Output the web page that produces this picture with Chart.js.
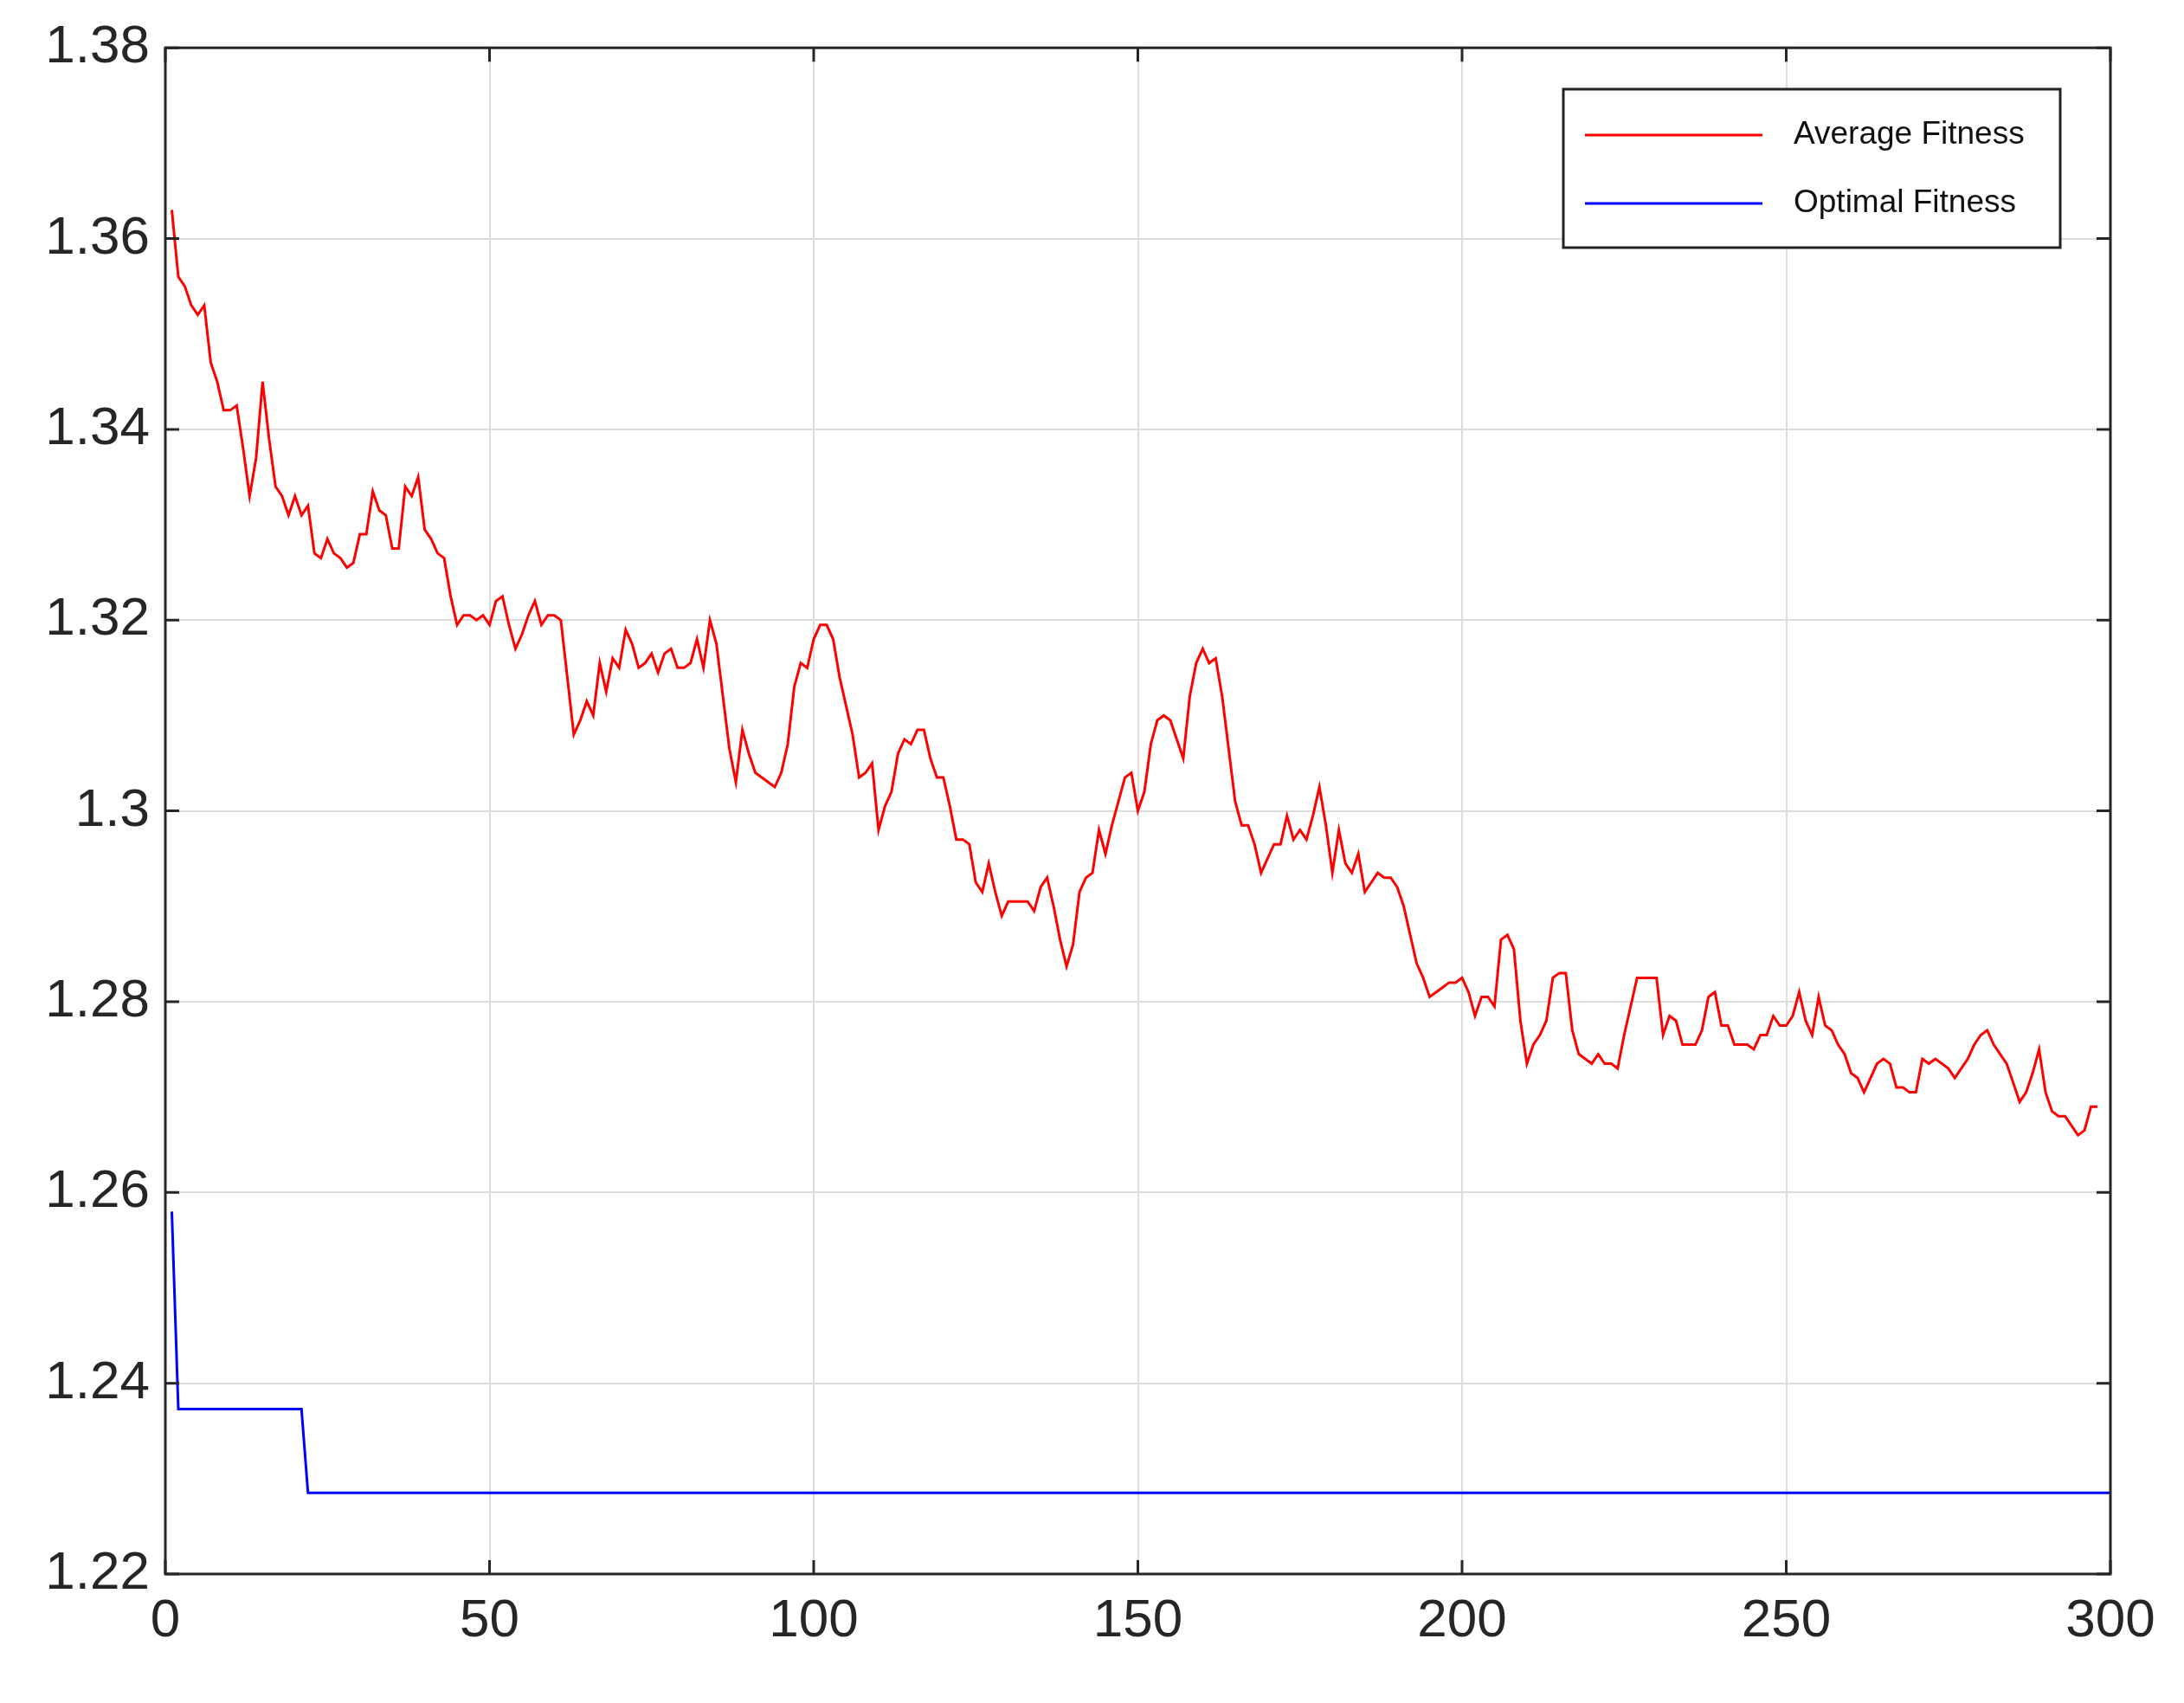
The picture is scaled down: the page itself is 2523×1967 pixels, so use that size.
<!DOCTYPE html>
<html><head><meta charset="utf-8">
<script src="https://cdn.jsdelivr.net/npm/chart.js@4/dist/chart.umd.min.js"></script>
<style>html,body{margin:0;padding:0;background:#fff}#wrap{width:2523px;height:1967px}</style>
</head><body><div id="wrap"><canvas id="c"></canvas></div>
<script>
const avgGen = Array.from({length:298},(_, i)=>i+1);
const avgFitness = [1.363,1.356,1.355,1.353,1.352,1.353,1.347,1.345,1.342,1.342,1.3425,1.338,1.333,1.337,1.345,1.339,1.334,1.333,1.331,1.333,
1.331,1.332,1.327,1.3265,1.3285,1.327,1.3265,1.3255,1.326,1.329,1.329,1.3335,1.3315,1.331,1.3275,1.3275,1.334,1.333,1.335,1.3295,
1.3285,1.327,1.3265,1.3225,1.3195,1.3205,1.3205,1.32,1.3205,1.3195,1.322,1.3225,1.3195,1.317,1.3185,1.3205,1.322,1.3195,1.3205,1.3205,
1.32,1.314,1.308,1.3095,1.3115,1.31,1.3155,1.3125,1.316,1.315,1.319,1.3175,1.315,1.3155,1.3165,1.3145,1.3165,1.317,1.315,1.315,
1.3155,1.318,1.315,1.32,1.3175,1.312,1.3065,1.303,1.3085,1.306,1.304,1.3035,1.303,1.3025,1.304,1.307,1.313,1.3155,1.315,1.318,
1.3195,1.3195,1.318,1.314,1.311,1.308,1.3035,1.304,1.305,1.298,1.3005,1.302,1.306,1.3075,1.307,1.3085,1.3085,1.3055,1.3035,1.3035,
1.3005,1.297,1.297,1.2965,1.2925,1.2915,1.2945,1.2915,1.289,1.2905,1.2905,1.2905,1.2905,1.2895,1.292,1.293,1.29,1.2865,1.2837,1.286,
1.2915,1.293,1.2935,1.298,1.2955,1.2985,1.301,1.3035,1.304,1.3,1.302,1.307,1.3095,1.31,1.3095,1.3075,1.3055,1.312,1.3155,1.317,
1.3155,1.316,1.312,1.3065,1.301,1.2985,1.2985,1.2965,1.2935,1.295,1.2965,1.2965,1.2995,1.297,1.298,1.297,1.2995,1.3025,1.2985,1.2935,
1.298,1.2945,1.2935,1.2955,1.2915,1.2925,1.2935,1.293,1.293,1.292,1.29,1.287,1.284,1.2825,1.2805,1.281,1.2815,1.282,1.282,1.2825,
1.281,1.2785,1.2805,1.2805,1.2795,1.2865,1.287,1.2855,1.278,1.2735,1.2755,1.2765,1.278,1.2825,1.283,1.283,1.277,1.2745,1.274,1.2735,
1.2745,1.2735,1.2735,1.273,1.2765,1.2795,1.2825,1.2825,1.2825,1.2825,1.2765,1.2785,1.278,1.2755,1.2755,1.2755,1.277,1.2805,1.281,1.2775,
1.2775,1.2755,1.2755,1.2755,1.275,1.2765,1.2765,1.2785,1.2775,1.2775,1.2785,1.281,1.278,1.2765,1.2805,1.2775,1.277,1.2755,1.2745,1.2725,
1.272,1.2705,1.272,1.2735,1.274,1.2735,1.271,1.271,1.2705,1.2705,1.274,1.2735,1.274,1.2735,1.273,1.272,1.273,1.274,1.2755,1.2765,
1.277,1.2755,1.2745,1.2735,1.2715,1.2695,1.2705,1.2725,1.275,1.2705,1.2685,1.268,1.268,1.267,1.266,1.2665,1.269,1.269];
const optGen = [1, 2, 21, 22, 300];
const optFitness = [1.258, 1.2373, 1.2373, 1.2285, 1.2285];
const xTicks = [0,50,100,150,200,250,300];
const yTicks = [1.22,1.24,1.26,1.28,1.3,1.32,1.34,1.36,1.38];
const seriesNames = ['Average Fitness','Optimal Fitness'];

const frame = {
  id:'frame',
  afterDraw(ch){
    const {ctx, chartArea:a, scales:{x,y}} = ch;
    ctx.save();
    ctx.strokeStyle='#262626'; ctx.lineWidth=3;
    ctx.strokeRect(a.left,a.top,a.right-a.left,a.bottom-a.top);
    ctx.lineWidth=3;
    xTicks.forEach(v=>{const p=x.getPixelForValue(v);
      ctx.beginPath();ctx.moveTo(p,a.bottom);ctx.lineTo(p,a.bottom-16);ctx.moveTo(p,a.top);ctx.lineTo(p,a.top+16);ctx.stroke();});
    yTicks.forEach(v=>{const p=y.getPixelForValue(v);
      ctx.beginPath();ctx.moveTo(a.left,p);ctx.lineTo(a.left+16,p);ctx.moveTo(a.right,p);ctx.lineTo(a.right-16,p);ctx.stroke();});
    // legend
    const L=1806,T=103,W=574,H=183;
    ctx.fillStyle='#fff';ctx.fillRect(L,T,W,H);
    ctx.strokeStyle='#222';ctx.lineWidth=3;ctx.strokeRect(L,T,W,H);
    ch.data.datasets.forEach((d,i)=>{
      const yy=T+53+i*79;
      ctx.strokeStyle=d.borderColor;ctx.lineWidth=3;
      ctx.beginPath();ctx.moveTo(L+25,yy);ctx.lineTo(L+230,yy);ctx.stroke();
      ctx.fillStyle='#111';ctx.font='37px "Liberation Sans", Arial, sans-serif';ctx.textBaseline='middle';
      ctx.fillText(d.label,L+266,yy);
    });
    ctx.restore();
  }
};

new Chart(document.getElementById('c'),{
  type:'line',
  data:{datasets:[
    {label:seriesNames[0],data:avgGen.map((g,i)=>({x:g,y:avgFitness[i]})),borderColor:'#ff0000',borderWidth:3,pointRadius:0,tension:0},
    {label:seriesNames[1],data:optGen.map((g,i)=>({x:g,y:optFitness[i]})),borderColor:'#0000ff',borderWidth:3,pointRadius:0,tension:0}
  ]},
  options:{
    responsive:true,maintainAspectRatio:false,animation:false,
    layout:{padding:{top:51,right:85,left:0,bottom:0}},
    plugins:{legend:{display:false},tooltip:{enabled:false}},
    scales:{
      x:{type:'linear',min:0,max:300,
        afterBuildTicks(s){s.ticks=xTicks.map(v=>({value:v}));},
        afterFit(s){s.height=149;},
        grid:{color:'#dcdcdc',lineWidth:2,drawTicks:false},border:{display:false},
        ticks:{color:'#262626',padding:18,font:{family:'"Liberation Sans", Arial, sans-serif',size:62},maxRotation:0}},
      y:{type:'linear',min:1.22,max:1.38,
        afterBuildTicks(s){s.ticks=yTicks.map(v=>({value:v}));},
        afterFit(s){s.width=191;},
        grid:{color:'#dcdcdc',lineWidth:2,drawTicks:false},border:{display:false},
        ticks:{color:'#262626',padding:18,font:{family:'"Liberation Sans", Arial, sans-serif',size:62},
          callback:v=>String(+v.toFixed(2))}}
    }
  },
  plugins:[frame]
});
</script></body></html>
